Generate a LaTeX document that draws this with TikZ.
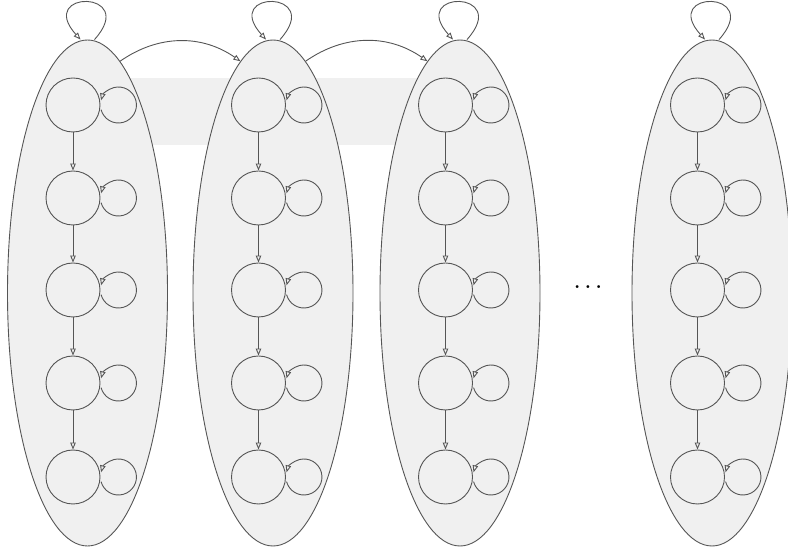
\documentclass[tikz,border=0pt]{standalone}
\usetikzlibrary{shapes.geometric,arrows.meta}
\definecolor{ln}{RGB}{85,85,85}
\definecolor{fl}{RGB}{240,240,240}
\begin{document}
\begin{tikzpicture}[x=1pt,y=1pt,
  group/.style={ellipse,draw=ln,fill=fl,line width=0.9pt,minimum width=160pt,minimum height=506pt,inner sep=0pt},
  state/.style={circle,draw=ln,line width=0.9pt,minimum size=54pt,inner sep=0pt},
  tip/.style={-{Triangle[open,length=7pt,width=5.5pt]}},
  conn/.style={draw=ln,line width=0.9pt}]
\useasboundingbox (0,0) rectangle (788,549);
\fill[fl] (87,404) rectangle (445,471);
\foreach \i/\x in {1/87.5,2/273,3/460,4/712}{
  \node[group] (e\i) at (\x,256) {};
  \draw[conn,tip] ([xshift=7pt]e\i.north) .. controls +(45,50) and +(-45,50) .. ([xshift=-7pt]e\i.north);
  \foreach \j/\y in {1/444,2/351,3/259,4/166,5/72}{
    \node[state] (n\i-\j) at (\x-14.5,\y) {};
    \draw[conn,tip] ([xshift=18pt]n\i-\j.east) ++(-165:18) arc[start angle=-165,end angle=165,radius=18];
  }
  \foreach \j [count=\k from 2] in {1,...,4}{
    \draw[conn,tip] (n\i-\j) -- (n\i-\k);
  }
}
\draw[conn,tip] (e1.82) to[bend left=35] (e2.98);
\draw[conn,tip] (e2.82) to[bend left=35] (e3.98);
\node[text=black,inner sep=0pt] (dots) at (588,262) {\fontsize{20}{20}\selectfont\bfseries .\hspace{4.6pt}.\hspace{4.6pt}.};
\end{tikzpicture}
\end{document}
